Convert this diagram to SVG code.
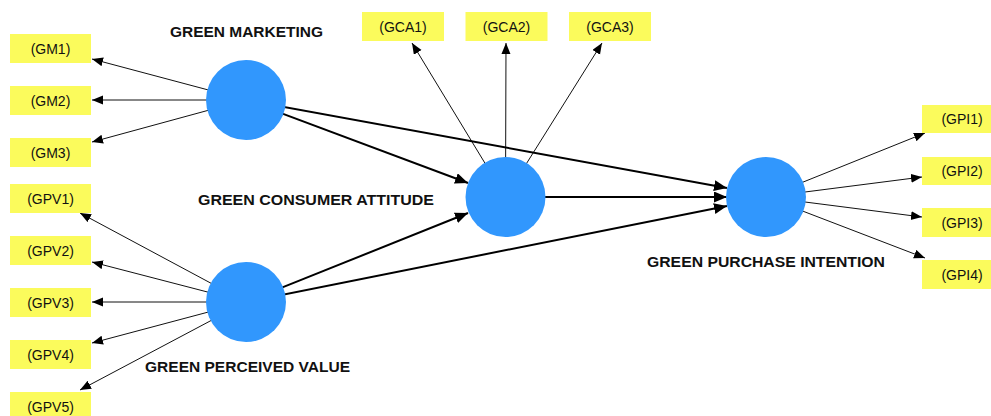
<svg xmlns="http://www.w3.org/2000/svg" width="991" height="416" viewBox="0 0 991 416">
<defs>
<style>
.box{fill:#fbfb5c}
.bt{font-family:"Liberation Sans",Arial,sans-serif;font-size:14px;fill:#111;text-anchor:middle}
.lab{font-family:"Liberation Sans",Arial,sans-serif;font-size:14.5px;font-weight:bold;fill:#111;text-anchor:middle}
.lv{fill:#3197fd}
.thin{stroke:#111;stroke-width:1;fill:none;marker-end:url(#ah)}
.thick{stroke:#000;stroke-width:2;fill:none;marker-end:url(#ahb)}
</style>
<marker id="ah" markerUnits="userSpaceOnUse" markerWidth="12" markerHeight="10" refX="11" refY="4.5" orient="auto">
<path d="M0,0 L11,4.5 L0,9 z" fill="#000"/>
</marker>
<marker id="ahb" markerUnits="userSpaceOnUse" markerWidth="14" markerHeight="12" refX="13" refY="5.5" orient="auto">
<path d="M0,0 L13,5.5 L0,11 z" fill="#000"/>
</marker>
</defs>
<rect width="991" height="416" fill="#fff"/>
<g id="connectors">
<line class="thin" x1="246" y1="100" x2="92" y2="59"/>
<line class="thin" x1="246" y1="100" x2="92" y2="100"/>
<line class="thin" x1="246" y1="100" x2="92" y2="142"/>
<line class="thin" x1="246" y1="302" x2="80" y2="213"/>
<line class="thin" x1="246" y1="302" x2="92" y2="262"/>
<line class="thin" x1="246" y1="302" x2="92" y2="302"/>
<line class="thin" x1="246" y1="302" x2="92" y2="343"/>
<line class="thin" x1="246" y1="302" x2="80" y2="390"/>
<line class="thin" x1="505.5" y1="197" x2="412" y2="43"/>
<line class="thin" x1="505.5" y1="197" x2="506" y2="43"/>
<line class="thin" x1="505.5" y1="197" x2="602" y2="43"/>
<line class="thin" x1="766" y1="197" x2="925" y2="133"/>
<line class="thin" x1="766" y1="197" x2="922" y2="177"/>
<line class="thin" x1="766" y1="197" x2="922" y2="217"/>
<line class="thin" x1="766" y1="197" x2="925" y2="258"/>
<line class="thick" x1="246" y1="100" x2="468" y2="183"/>
<line class="thick" x1="246" y1="100" x2="727" y2="188"/>
<line class="thick" x1="246" y1="302" x2="468" y2="213"/>
<line class="thick" x1="246" y1="302" x2="727" y2="206"/>
<line class="thick" x1="505.5" y1="197" x2="727" y2="197"/>
</g>
<g id="GM">
<circle class="lv" cx="246" cy="100" r="40"/>
<text class="lab" x="246.5" y="37" textLength="153" lengthAdjust="spacingAndGlyphs">GREEN MARKETING</text>
</g>
<g id="GPV">
<circle class="lv" cx="246" cy="302" r="40"/>
<text class="lab" x="247.5" y="372" textLength="205" lengthAdjust="spacingAndGlyphs">GREEN PERCEIVED VALUE</text>
</g>
<g id="GCA">
<circle class="lv" cx="505.5" cy="197" r="40"/>
<text class="lab" x="316" y="205" textLength="236" lengthAdjust="spacingAndGlyphs">GREEN CONSUMER ATTITUDE</text>
</g>
<g id="GPI">
<circle class="lv" cx="766" cy="197" r="40"/>
<text class="lab" x="766" y="267" textLength="238" lengthAdjust="spacingAndGlyphs">GREEN PURCHASE INTENTION</text>
</g>
<g id="GM1"><rect class="box" x="10" y="34" width="81" height="29"/><text class="bt" x="50.5" y="53.5">(GM1)</text></g>
<g id="GM2"><rect class="box" x="10" y="86" width="81" height="29"/><text class="bt" x="50.5" y="105.5">(GM2)</text></g>
<g id="GM3"><rect class="box" x="10" y="138" width="81" height="29"/><text class="bt" x="50.5" y="157.5">(GM3)</text></g>
<g id="GPV1"><rect class="box" x="10" y="184" width="81" height="29"/><text class="bt" x="50.5" y="203.5">(GPV1)</text></g>
<g id="GPV2"><rect class="box" x="10" y="236" width="81" height="29"/><text class="bt" x="50.5" y="255.5">(GPV2)</text></g>
<g id="GPV3"><rect class="box" x="10" y="288" width="81" height="29"/><text class="bt" x="50.5" y="307.5">(GPV3)</text></g>
<g id="GPV4"><rect class="box" x="10" y="340" width="81" height="29"/><text class="bt" x="50.5" y="359.5">(GPV4)</text></g>
<g id="GPV5"><rect class="box" x="10" y="392" width="81" height="29"/><text class="bt" x="50.5" y="411.5">(GPV5)</text></g>
<g id="GCA1"><rect class="box" x="362" y="12" width="82" height="29"/><text class="bt" x="403" y="31.5">(GCA1)</text></g>
<g id="GCA2"><rect class="box" x="465.5" y="12" width="82" height="29"/><text class="bt" x="506.5" y="31.5">(GCA2)</text></g>
<g id="GCA3"><rect class="box" x="569" y="12" width="82" height="29"/><text class="bt" x="610" y="31.5">(GCA3)</text></g>
<g id="GPI1"><rect class="box" x="922" y="105" width="81" height="28"/><text class="bt" x="962" y="124">(GPI1)</text></g>
<g id="GPI2"><rect class="box" x="922" y="157" width="81" height="28"/><text class="bt" x="962" y="176">(GPI2)</text></g>
<g id="GPI3"><rect class="box" x="922" y="208" width="81" height="29"/><text class="bt" x="962" y="227.5">(GPI3)</text></g>
<g id="GPI4"><rect class="box" x="922" y="260" width="81" height="29"/><text class="bt" x="962" y="279.5">(GPI4)</text></g>
</svg>
